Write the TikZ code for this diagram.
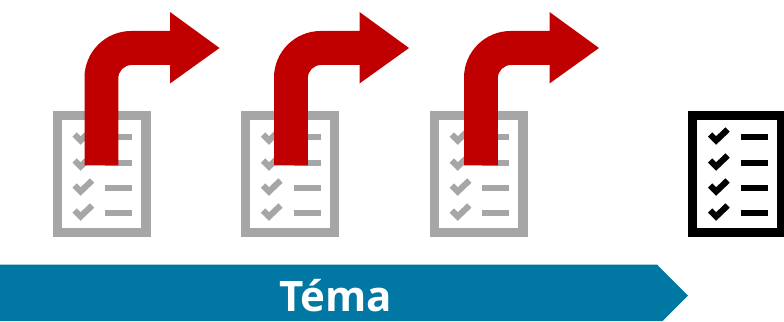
\documentclass[tikz,border=0pt]{standalone}
\usepackage{fontspec}
\setmainfont{Open Sans}
\definecolor{docgray}{HTML}{A6A6A6}
\definecolor{arrowred}{HTML}{C00000}
\definecolor{barblue}{HTML}{0078A3}
\begin{document}
\begin{tikzpicture}[x=0.75pt,y=-0.75pt]
\tikzstyle{doc}=[draw,line width=7pt,outer sep=0pt,minimum width=66.5pt,minimum height=87.8pt,fill=white]
\tikzstyle{tick}=[line width=4.6pt,miter limit=10]
\tikzstyle{itemline}=[line width=5.2pt]

\useasboundingbox (0,0) rectangle (784,321);

% bar
\fill [barblue] (0,264.5) -- (657,264.5) -- (688,295.7) -- (662.5,321) -- (0,321) -- cycle;
\node (T) [text=white,font=\fontsize{31.5}{36}\selectfont\bfseries,anchor=base] at (335.5,311.7) {Téma};

% lists
\foreach \i/\x/\c in {1/101.6/docgray,2/290/docgray,3/478.8/docgray,4/737.1/black} {
  \node (D\i) [doc,draw=\c] at (\x,174) {};
  \foreach \y in {137,163,188,213} {
    \draw [tick,\c] (\x-27,\y-2.5) -- (\x-21,\y+3.5) -- (\x-9.5,\y-7.5);
    \draw [itemline,\c] (\x+3.5,\y) -- (\x+30.5,\y);
  }
}

% arrows
\foreach \x in {0,189.5,379.5} {
  \fill [arrowred] (\x+84.5,165.3) [rounded corners=35pt] -- (\x+84.5,31) [sharp corners] -- (\x+170,31) -- (\x+170,12) -- (\x+219.5,48) -- (\x+170,83.5) -- (\x+170,65) [rounded corners=10pt] -- (\x+118.3,65) [sharp corners] -- (\x+118.3,165.3) -- cycle;
}
\end{tikzpicture}
\end{document}
